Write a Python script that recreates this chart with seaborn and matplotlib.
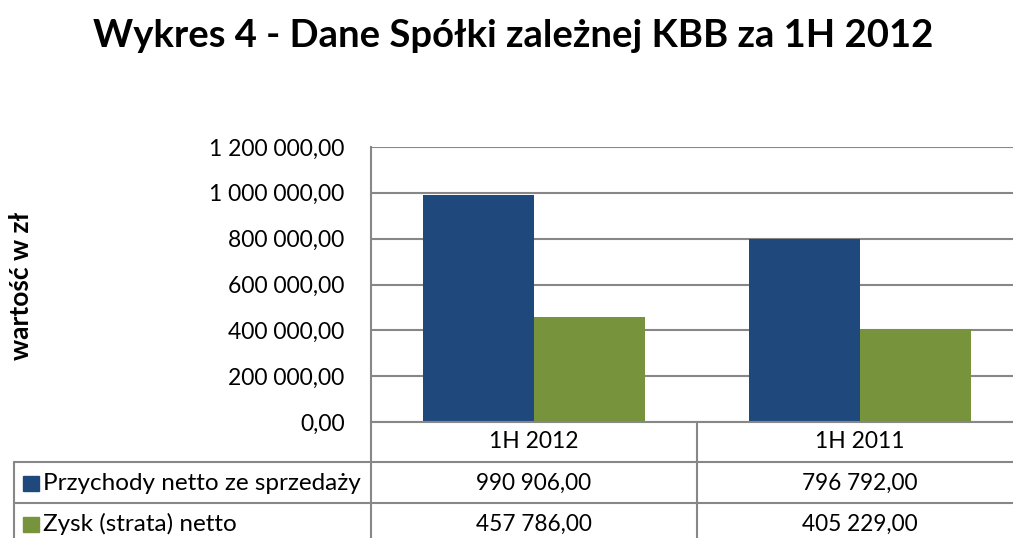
import matplotlib
matplotlib.use("Agg")
import matplotlib.pyplot as plt
from matplotlib.lines import Line2D
from matplotlib.patches import Rectangle
import seaborn as sns
import pandas as pd

title = "Wykres 4 - Dane Spółki zależnej KBB za 1H 2012"
ylabel = "wartość w zł"
categories = ["1H 2012", "1H 2011"]
series_names = ["Przychody netto ze sprzedaży", "Zysk (strata) netto"]
przychody = [990906.00, 796792.00]
zysk = [457786.00, 405229.00]
colors = ["#1F497D", "#77933C"]
yticks = [0, 200000, 400000, 600000, 800000, 1000000, 1200000]

def fmt(v):
    return f"{v:,.2f}".replace(",", " ").replace(".", ",")

rows = []
for name, vals in zip(series_names, [przychody, zysk]):
    for c, v in zip(categories, vals):
        rows.append({"okres": c, "seria": name, "wartosc": v})
df = pd.DataFrame(rows)

sns.set_theme(style="white")
FONT = ["Lato", "DejaVu Sans"]
plt.rcParams["font.family"] = FONT
plt.rcParams["text.color"] = "black"

W, H = 1013, 538
fig = plt.figure(figsize=(W / 100, H / 100), dpi=100)
GRID = "#878787"

# axes spans x 371..1023 (cropped at right), y 147..422
ax = fig.add_axes([371 / W, (H - 422) / H, 652 / W, (422 - 147) / H])
sns.barplot(data=df, x="okres", y="wartosc", hue="seria", order=categories,
            hue_order=series_names, palette=colors, width=0.68, saturation=1,
            ax=ax, legend=False, errorbar=None)
ax.set_ylim(0, 1200000)
ax.set_xlim(-0.5, 1.5)
ax.set_yticks(yticks)
ax.set_yticklabels([fmt(t) for t in yticks], fontsize=16.5)
ax.tick_params(axis="y", length=0, pad=19, colors="black")
ax.set_xticks([])
ax.set_xlabel("")
ax.set_ylabel("")
ax.grid(axis="y", color=GRID, linewidth=1.5)
ax.set_axisbelow(True)
for s in ["top", "right", "bottom"]:
    ax.spines[s].set_visible(False)
ax.spines["left"].set_color(GRID)
ax.spines["left"].set_linewidth(1.5)
for b in ax.patches:
    b.set_edgecolor("none")

fig.text(513 / W, 1 - 36 / H, title, ha="center", va="center", fontsize=27.5,
         fontweight="bold", family=FONT)
fig.text(21 / W, 1 - 286 / H, ylabel, rotation=90, ha="center", va="center",
         fontsize=19, fontweight="bold", family=FONT)

# data table
def fx(x):
    return x / W

def fy(y):
    return 1 - y / H

def hline(x0, x1, y):
    fig.add_artist(Line2D([fx(x0), fx(x1)], [fy(y), fy(y)], color=GRID, lw=1.5))

def vline(x, y0, y1):
    fig.add_artist(Line2D([fx(x), fx(x)], [fy(y0), fy(y1)], color=GRID, lw=1.5))

hline(371, W, 422)
hline(14, W, 462)
hline(14, W, 503)
vline(371, 422, H)
vline(697, 422, H)
vline(14, 462, H)

col_centers = [534, 860]
for c, cx in zip(categories, col_centers):
    fig.text(fx(cx), fy(441), c, ha="center", va="center", fontsize=16.5)

row_centers = [483, 524]
for name, vals, col, ry in zip(series_names, [przychody, zysk], colors, row_centers):
    fig.add_artist(Rectangle((fx(23), fy(ry + 7.5)), 16 / W, 15 / H,
                             transform=fig.transFigure, color=col))
    fig.text(fx(43), fy(ry), name, ha="left", va="center", fontsize=17.5)
    for v, cx in zip(vals, col_centers):
        fig.text(fx(cx), fy(ry), fmt(v), ha="center", va="center", fontsize=16.3)

fig.savefig("out.png", dpi=100)
